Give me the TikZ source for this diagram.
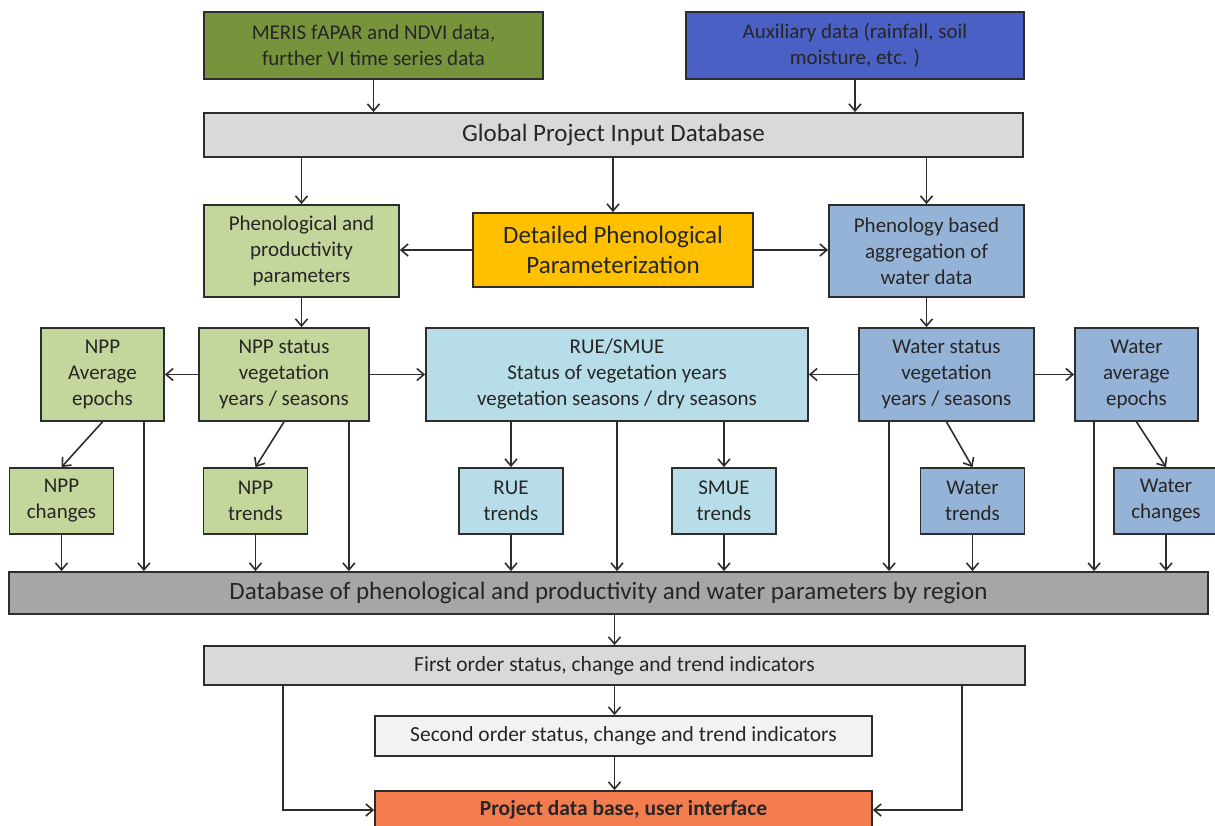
\documentclass[tikz,border=0pt]{standalone}
\usepackage{fontspec}
\setmainfont{Carlito}
\usetikzlibrary{arrows.meta}

\definecolor{olivedark}{RGB}{119,147,60}
\definecolor{olivelight}{RGB}{195,214,155}
\definecolor{auxblue}{RGB}{74,96,196}
\definecolor{waterblue}{RGB}{149,179,215}
\definecolor{ruecyan}{RGB}{183,222,232}
\definecolor{gold}{RGB}{255,192,0}
\definecolor{dbgrey}{RGB}{217,217,217}
\definecolor{regiongrey}{RGB}{166,166,166}
\definecolor{pale}{RGB}{242,242,242}
\definecolor{coral}{RGB}{244,125,80}
\definecolor{edge}{RGB}{45,45,45}

\begin{document}
\begin{tikzpicture}[x=1pt,y=-1pt,
  box/.style={draw=edge,line width=1.8pt,inner sep=0pt,align=center,text=black!85,
    font=\fontsize{21}{26}\selectfont},
  bigbox/.style={box,font=\fontsize{25}{30}\selectfont},
  small/.style={box,minimum width=104pt,minimum height=66pt},
  mid/.style={box,minimum height=93pt},
  flow/.style={->,line width=1.6pt,draw=edge},
  >={Straight Barb[length=7pt,width=12pt]}]
\useasboundingbox (0,0) rectangle (1215,826);

% inputs and global database
\node at (373.5,45.5)[box,fill=olivedark,minimum width=339pt,minimum height=67pt] (meris) {MERIS fAPAR and NDVI data,\\further VI time series data};
\node at (855,45.5)[box,fill=auxblue,minimum width=338pt,minimum height=67pt] (aux) {Auxiliary data (rainfall, soil\\moisture, etc. )};
\node at (613.5,135)[bigbox,fill=dbgrey,minimum width=819pt,minimum height=44pt] (gdb) {Global Project Input Database};

% parameterization
\node at (301.5,251)[box,fill=olivelight,minimum width=195pt,minimum height=92pt] (pheno) {Phenological and\\productivity\\parameters};
\node at (613,250)[bigbox,fill=gold,minimum width=280pt,minimum height=74pt] (detail) {Detailed Phenological\\Parameterization};
\node at (926.5,251)[box,fill=waterblue,minimum width=195pt,minimum height=92pt] (aggr) {Phenology based\\aggregation of\\water data};

% status row
\node at (102.5,374.5)[mid,fill=olivelight,minimum width=123pt] (nppavg) {NPP\\Average\\epochs};
\node at (284,374.5)[mid,fill=olivelight,minimum width=170pt] (nppstat) {NPP status\\vegetation\\years / seasons};
\node at (617,374.5)[mid,fill=ruecyan,minimum width=382pt] (ruesmue) {RUE/SMUE\\Status of vegetation years\\vegetation seasons / dry seasons};
\node at (946.5,374.5)[mid,fill=waterblue,minimum width=175pt] (watstat) {Water status\\vegetation\\years / seasons};
\node at (1136.5,374.5)[mid,fill=waterblue,minimum width=123pt] (watavg) {Water\\average\\epochs};

% changes and trends
\node at (61.5,501)[small,fill=olivelight] (nppchg) {NPP\\changes};
\node at (255.5,501)[small,fill=olivelight] (npptrd) {NPP\\trends};
\node at (511,501)[small,fill=ruecyan] (ruetrd) {RUE\\trends};
\node at (724,501)[small,fill=ruecyan] (smuetrd) {SMUE\\trends};
\node at (972.5,501)[small,fill=waterblue] (wattrd) {Water\\trends};
\node at (1166,501)[small,fill=waterblue] (watchg) {Water\\changes};

% regional database and indicators
\node at (608.5,593)[bigbox,fill=regiongrey,minimum width=1199pt,minimum height=42pt] (pdb) {Database of phenological and productivity and water parameters by region};
\node at (614.5,665.5)[box,fill=dbgrey,minimum width=821pt,minimum height=39pt,font=\fontsize{21.5}{26}\selectfont] (first) {First order status, change and trend indicators};
\node at (623.5,736)[box,fill=pale,minimum width=497pt,minimum height=40pt,font=\fontsize{21.5}{26}\selectfont] (second) {Second order status, change and trend indicators};
\node at (623.5,810)[box,fill=coral,minimum width=497pt,minimum height=38pt,font=\fontsize{21.5}{26}\selectfont\bfseries] (proj) {Project data base, user interface};

\coordinate (avgdrop) at ([xshift=-21pt]nppavg.south east);
\coordinate (statdrop) at ([xshift=-21pt]nppstat.south east);
\coordinate (wstatdrop) at ([xshift=31pt]watstat.south west);
\coordinate (wavgdrop) at ([xshift=20pt]watavg.south west);
\coordinate (leftdrop) at ([xshift=80pt]first.south west);
\coordinate (rightdrop) at ([xshift=-64pt]first.south east);

\draw[flow] (meris) -- (meris |- gdb.north);
\draw[flow] (aux) -- (aux |- gdb.north);
\draw[flow] (pheno |- gdb.south) -- (pheno.north);
\draw[flow] (detail |- gdb.south) -- (detail.north);
\draw[flow] (aggr |- gdb.south) -- (aggr.north);
\draw[flow] (detail.west) -- (detail.west -| pheno.east);
\draw[flow] (detail.east) -- (detail.east -| aggr.west);
\draw[flow] (pheno.south) -- (pheno.south |- nppstat.north);
\draw[flow] (aggr.south) -- (aggr.south |- watstat.north);

\draw[flow] (nppstat.west) -- (nppavg.east);
\draw[flow] (nppstat.east) -- (ruesmue.west);
\draw[flow] (watstat.west) -- (ruesmue.east);
\draw[flow] (watstat.east) -- (watavg.west);

\draw[flow] (nppavg.south) -- (nppchg.north);
\draw[flow] (nppstat.south) -- (npptrd.north);
\draw[flow] (ruetrd |- ruesmue.south) -- (ruetrd.north);
\draw[flow] (smuetrd |- ruesmue.south) -- (smuetrd.north);
\draw[flow] (watstat.south) -- (wattrd.north);
\draw[flow] (watavg.south) -- (watchg.north);

\draw[flow] (nppchg) -- (nppchg |- pdb.north);
\draw[flow] (avgdrop) -- (avgdrop |- pdb.north);
\draw[flow] (npptrd) -- (npptrd |- pdb.north);
\draw[flow] (statdrop) -- (statdrop |- pdb.north);
\draw[flow] (ruetrd) -- (ruetrd |- pdb.north);
\draw[flow] (ruesmue.south) -- (ruesmue.south |- pdb.north);
\draw[flow] (smuetrd) -- (smuetrd |- pdb.north);
\draw[flow] (wstatdrop) -- (wstatdrop |- pdb.north);
\draw[flow] (wattrd) -- (wattrd |- pdb.north);
\draw[flow] (wavgdrop) -- (wavgdrop |- pdb.north);
\draw[flow] (watchg) -- (watchg |- pdb.north);

\draw[flow] (first |- pdb.south) -- (first.north);
\draw[flow] (first.south) -- (first.south |- second.north);
\draw[flow] (first.south |- second.south) -- (first.south |- proj.north);
\draw[flow] (leftdrop) |- (proj.west);
\draw[flow] (rightdrop) |- (proj.east);
\end{tikzpicture}
\end{document}
